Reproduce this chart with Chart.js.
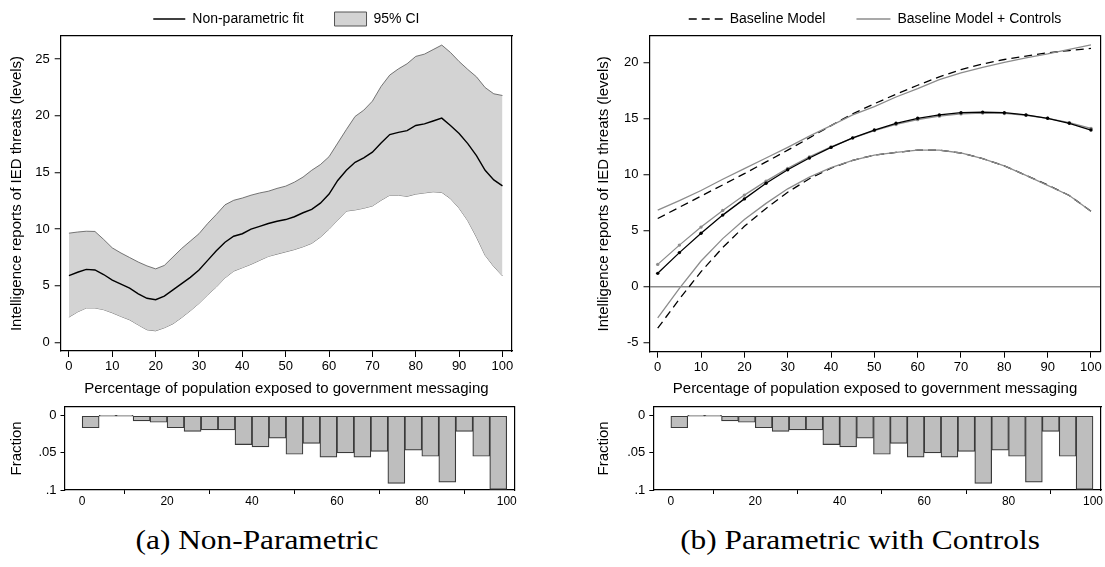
<!DOCTYPE html>
<html>
<head>
<meta charset="utf-8">
<title>IED threat reports and government messaging</title>
<script src="https://cdn.jsdelivr.net/npm/chart.js@4.4.1/dist/chart.umd.min.js"></script>
<style>
  html, body { margin: 0; padding: 0; background: #fff; }
  body { position: relative; width: 1105px; height: 567px; overflow: hidden; }
  .panel { position: absolute; }
  .caption {
    position: absolute; top: 523px; width: 400px; line-height: 34px;
    text-align: center; color: #000;
    font-family: 'Liberation Serif', 'Times New Roman', serif; font-size: 28px;
    transform: scaleX(1.12);
  }
</style>
</head>
<body>
<div class="panel" style="left:0;top:-19px;width:530px;height:418px"><canvas id="fitChart"></canvas></div>
<div class="panel" style="left:587px;top:-19px;width:518px;height:418px"><canvas id="modelChart"></canvas></div>
<div class="panel" style="left:0;top:395px;width:530px;height:117px"><canvas id="histLeft"></canvas></div>
<div class="panel" style="left:587px;top:395px;width:518px;height:117px"><canvas id="histRight"></canvas></div>
<div class="caption" style="left:57px">(a) Non-Parametric</div>
<div class="caption" style="left:660px">(b) Parametric with Controls</div>
<script>
// local polynomial fit with 95% band, evaluated every 2 points of exposure
const xFit = [0, 2, 4, 6, 8, 10, 12, 14, 16, 18, 20, 22, 24, 26, 28, 30, 32, 34, 36, 38, 40,
  42, 44, 46, 48, 50, 52, 54, 56, 58, 60, 62, 64, 66, 68, 70, 72, 74, 76, 78, 80,
  82, 84, 86, 88, 90, 92, 94, 96, 98, 100];
const fitValues = [5.9, 6.2, 6.45, 6.4, 6.0, 5.5, 5.15, 4.8, 4.3, 3.9, 3.78, 4.1, 4.65, 5.2, 5.75, 6.4, 7.25, 8.1, 8.85, 9.38, 9.6,
  10.0, 10.25, 10.5, 10.7, 10.85, 11.1, 11.45, 11.75, 12.3, 13.1, 14.3, 15.2, 15.9, 16.3, 16.8, 17.6, 18.35, 18.55, 18.7, 19.15,
  19.3, 19.55, 19.8, 19.15, 18.45, 17.55, 16.5, 15.2, 14.35, 13.82];
const ciUpper = [9.65, 9.75, 9.82, 9.8, 9.1, 8.35, 7.9, 7.5, 7.1, 6.76, 6.5, 6.8, 7.55, 8.3, 8.95, 9.6, 10.5, 11.3, 12.15, 12.55, 12.75,
  13.0, 13.2, 13.35, 13.6, 13.8, 14.15, 14.6, 15.2, 15.7, 16.4, 17.6, 18.8, 19.95, 20.5, 21.3, 22.6, 23.6, 24.15, 24.6, 25.25,
  25.45, 25.85, 26.25, 25.6, 24.8, 24.1, 23.45, 22.5, 21.95, 21.8];
const ciLower = [2.24, 2.7, 3.05, 3.05, 2.9, 2.62, 2.3, 2.0, 1.55, 1.12, 1.03, 1.3, 1.65, 2.2, 2.8, 3.45, 4.2, 4.9, 5.7, 6.3, 6.6,
  6.9, 7.25, 7.6, 7.8, 8.0, 8.2, 8.45, 8.75, 9.3, 10.0, 10.8, 11.6, 11.7, 11.85, 12.05, 12.55, 13.0, 13.0, 12.9, 13.1,
  13.2, 13.3, 13.25, 12.7, 11.85, 10.75, 9.3, 7.7, 6.7, 5.88];

// quadratic model predictions with 95% bounds, every 5 points
const xPred = [0, 5, 10, 15, 20, 25, 30, 35, 40, 45, 50, 55, 60, 65, 70, 75, 80, 85, 90, 95, 100];
const baseUpper = [6.1, 7.1, 8.1, 9.1, 10.1, 11.15, 12.2, 13.3, 14.4, 15.45, 16.35, 17.2, 18.0, 18.75, 19.4, 19.9, 20.3, 20.6, 20.9, 21.1, 21.3];
const baseMid = [1.2, 3.05, 4.78, 6.4, 7.85, 9.25, 10.45, 11.5, 12.45, 13.3, 14.0, 14.6, 15.05, 15.35, 15.55, 15.6, 15.55, 15.35, 15.05, 14.6, 14.0];
const baseLower = [-3.7, -1.1, 1.35, 3.5, 5.4, 7.0, 8.45, 9.65, 10.6, 11.3, 11.75, 12.0, 12.2, 12.2, 11.95, 11.45, 10.8, 9.95, 9.1, 8.15, 6.75];
const ctrlUpper = [6.85, 7.7, 8.6, 9.6, 10.55, 11.5, 12.45, 13.45, 14.4, 15.35, 16.1, 16.95, 17.7, 18.5, 19.1, 19.6, 20.05, 20.45, 20.8, 21.2, 21.6];
const ctrlMid = [2.0, 3.72, 5.33, 6.82, 8.19, 9.44, 10.58, 11.6, 12.5, 13.28, 13.95, 14.5, 14.93, 15.24, 15.44, 15.52, 15.48, 15.32, 15.05, 14.66, 14.15];
const ctrlLower = [-2.77, -0.15, 2.3, 4.3, 6.0, 7.45, 8.75, 9.8, 10.65, 11.3, 11.75, 12.0, 12.2, 12.2, 11.95, 11.45, 10.8, 9.95, 9.05, 8.15, 6.75];

// share of districts in each 4-point bin of exposure
const binCenters = [2, 6, 10, 14, 18, 22, 26, 30, 34, 38, 42, 46, 50, 54, 58, 62, 66, 70, 74, 78, 82, 86, 90, 94, 98];
const histFraction = [0.0162, 0, 0, 0.0069, 0.0088, 0.0162, 0.0211, 0.0192, 0.0192, 0.0389, 0.0419, 0.0303, 0.0519,
  0.0373, 0.0558, 0.05, 0.0558, 0.0481, 0.0912, 0.0463, 0.0546, 0.0894, 0.0211, 0.0546, 0.0991];

const xTicksMain = [0, 10, 20, 30, 40, 50, 60, 70, 80, 90, 100];
const yTicksFit = [0, 5, 10, 15, 20, 25];
const yTicksModel = [-5, 0, 5, 10, 15, 20];
const xTicksHist = [0, 20, 40, 60, 80, 100];
const yTicksHist = [0, 0.05, 0.1];

const yTitle = 'Intelligence reports of IED threats (levels)';
const xTitle = 'Percentage of population exposed to government messaging';

Chart.defaults.font.family = "'Liberation Sans', Arial, Helvetica, sans-serif";
Chart.defaults.font.size = 13;
Chart.defaults.color = '#000';

const BAND = '#d3d3d3';
const GREY = '#8c8c8c';

const pts = (xs, ys) => xs.map((x, i) => ({ x: x, y: ys[i] }));
const fixTicks = list => scale => { scale.ticks = list.map(v => ({ value: v })); };

// invisible axes on the top and right, only there to close the plot frame
const frameAxis = (axis, pos, min, max) => ({
  type: 'linear', axis: axis, position: pos, min: min, max: max,
  ticks: { display: false },
  grid: { drawOnChartArea: false, drawTicks: false },
  border: { color: '#000', width: 1.2 },
  afterFit: s => { if (axis === 'x') s.height = 0; else s.width = 0; }
});

const baseOptions = {
  responsive: true,
  maintainAspectRatio: false,
  animation: false,
  events: [],
  plugins: { tooltip: { enabled: false } }
};

function mainScales(yMin, yMax, yTicks, yWidth, xHeight, zeroLine) {
  return {
    x: {
      type: 'linear', min: -1.9, max: 102.2,
      afterBuildTicks: fixTicks(xTicksMain),
      afterFit: s => { s.height = xHeight; },
      ticks: { autoSkip: false, maxRotation: 0, padding: 2 },
      grid: { drawOnChartArea: false, tickLength: 6, tickColor: '#000', tickWidth: 1 },
      border: { color: '#000', width: 1.2 },
      title: { display: true, text: xTitle, font: { size: 15 }, padding: { top: 0, bottom: 1 } }
    },
    y: {
      type: 'linear', min: yMin, max: yMax,
      afterBuildTicks: fixTicks(yTicks),
      afterFit: s => { s.width = yWidth; },
      ticks: { autoSkip: false, padding: 5 },
      grid: {
        drawOnChartArea: zeroLine,
        color: c => (zeroLine && c.tick && c.tick.value === 0) ? '#8a8a8a' : 'rgba(0,0,0,0)',
        lineWidth: 1.5,
        tickLength: 6, tickColor: '#000', tickWidth: 1
      },
      border: { color: '#000', width: 1.2 },
      title: { display: true, text: yTitle, font: { size: 15 }, padding: { top: 8, bottom: 0 } }
    },
    x2: frameAxis('x', 'top', -1.9, 102.2),
    y2: frameAxis('y', 'right', yMin, yMax)
  };
}

function legendFor(items, boxWidth) {
  return {
    display: true,
    position: 'top',
    fullSize: false,
    labels: {
      font: { size: 14 },
      usePointStyle: true,
      pointStyleWidth: boxWidth,
      padding: 31,
      generateLabels: () => items
    }
  };
}

// (a) non-parametric fit
new Chart(document.getElementById('fitChart'), {
  type: 'line',
  data: {
    datasets: [
      { label: 'Non-parametric fit', data: pts(xFit, fitValues), borderColor: '#000', borderWidth: 1.4,
        pointRadius: 0, tension: 0, fill: false },
      { label: '95% CI', data: pts(xFit, ciUpper), borderColor: '#555', borderWidth: 0.8,
        backgroundColor: BAND, pointRadius: 0, tension: 0, fill: '+1' },
      { label: '95% CI lower', data: pts(xFit, ciLower), borderColor: '#555', borderWidth: 0.8,
        pointRadius: 0, tension: 0, fill: false }
    ]
  },
  options: Object.assign({}, baseOptions, {
    layout: { padding: { left: 0, right: 18, top: 0, bottom: 0 } },
    scales: mainScales(-0.75, 27.05, yTicksFit, 60.7, 48, false),
    plugins: {
      tooltip: { enabled: false },
      legend: legendFor([
        { text: 'Non-parametric fit', pointStyle: 'line', strokeStyle: '#000', fillStyle: '#000', lineWidth: 1.3, fontColor: '#000' },
        { text: '95% CI', pointStyle: 'rect', strokeStyle: '#555', fillStyle: BAND, lineWidth: 1, fontColor: '#000' }
      ], 32)
    }
  })
});

// (b) parametric models, with and without controls
// order: black estimate on top, grey curves next, dashed bounds underneath
const curve = (label, ys, color, dash, dots, order) => ({
  label: label, data: pts(xPred, ys), borderColor: color, borderWidth: 1.3, borderDash: dash,
  pointRadius: dots ? 1.7 : 0, pointBackgroundColor: color, pointBorderWidth: 0,
  tension: 0, fill: false, order: order
});

new Chart(document.getElementById('modelChart'), {
  type: 'line',
  data: {
    datasets: [
      curve('Baseline Model', baseUpper, '#000', [8, 5], false, 2),
      curve('Baseline Model estimate', baseMid, '#000', [], true, 0),
      curve('Baseline Model lower', baseLower, '#000', [8, 5], false, 2),
      curve('Baseline Model + Controls', ctrlUpper, GREY, [], false, 1),
      curve('Baseline Model + Controls estimate', ctrlMid, GREY, [], true, 1),
      curve('Baseline Model + Controls lower', ctrlLower, GREY, [], false, 1)
    ]
  },
  options: Object.assign({}, baseOptions, {
    layout: { padding: { left: 0, right: 4.5, top: 0, bottom: 0 } },
    scales: mainScales(-5.8, 22.4, yTicksModel, 62.5, 47.3, true),
    plugins: {
      tooltip: { enabled: false },
      legend: legendFor([
        { text: 'Baseline Model', pointStyle: 'line', strokeStyle: '#000', fillStyle: '#000', lineWidth: 1.3, lineDash: [8, 5], fontColor: '#000' },
        { text: 'Baseline Model + Controls', pointStyle: 'line', strokeStyle: GREY, fillStyle: GREY, lineWidth: 1.3, fontColor: '#000' }
      ], 34)
    }
  })
});

// distribution of exposure, bars hanging down from zero
function histChart(id, yWidth, padRight) {
  return new Chart(document.getElementById(id), {
    type: 'bar',
    data: {
      datasets: [{
        label: 'Fraction',
        data: pts(binCenters, histFraction),
        backgroundColor: '#bebebe',
        borderColor: '#3a3a3a',
        borderWidth: 1.2,
        borderSkipped: false,
        barPercentage: 1,
        categoryPercentage: 1,
        minBarLength: 1
      }]
    },
    options: Object.assign({}, baseOptions, {
      layout: { padding: { left: 0, right: padRight, top: 9.7, bottom: 0 } },
      plugins: { tooltip: { enabled: false }, legend: { display: false } },
      scales: {
        x: {
          type: 'linear', offset: false, min: -4.16, max: 101.9,
          afterBuildTicks: fixTicks(xTicksHist),
          afterFit: s => { s.height = 22; },
          ticks: { autoSkip: false, maxRotation: 0, padding: 0,
            font: { family: "'Liberation Sans Narrow', 'Arial Narrow', 'Liberation Sans', sans-serif", size: 12 } },
          grid: { drawOnChartArea: false, tickLength: 4, tickColor: '#000', tickWidth: 1 },
          border: { color: '#000', width: 1.2 }
        },
        y: {
          type: 'linear', reverse: true, min: -0.012, max: 0.1,
          afterBuildTicks: fixTicks(yTicksHist),
          afterFit: s => { s.width = yWidth; },
          ticks: { autoSkip: false, padding: 4,
            callback: v => v === 0 ? '0' : String(v).replace(/^0/, '') },
          grid: { drawOnChartArea: false, tickLength: 4, tickColor: '#000', tickWidth: 1 },
          border: { color: '#000', width: 1.2 },
          title: { display: true, text: 'Fraction', font: { size: 15 }, padding: { top: 8, bottom: 0 } }
        },
        x2: frameAxis('x', 'top', -4.16, 101.9),
        y2: frameAxis('y', 'right', -0.012, 0.1)
      }
    })
  });
}

histChart('histLeft', 64.5, 15.2);
histChart('histRight', 66.3, 4);
</script>
</body>
</html>
